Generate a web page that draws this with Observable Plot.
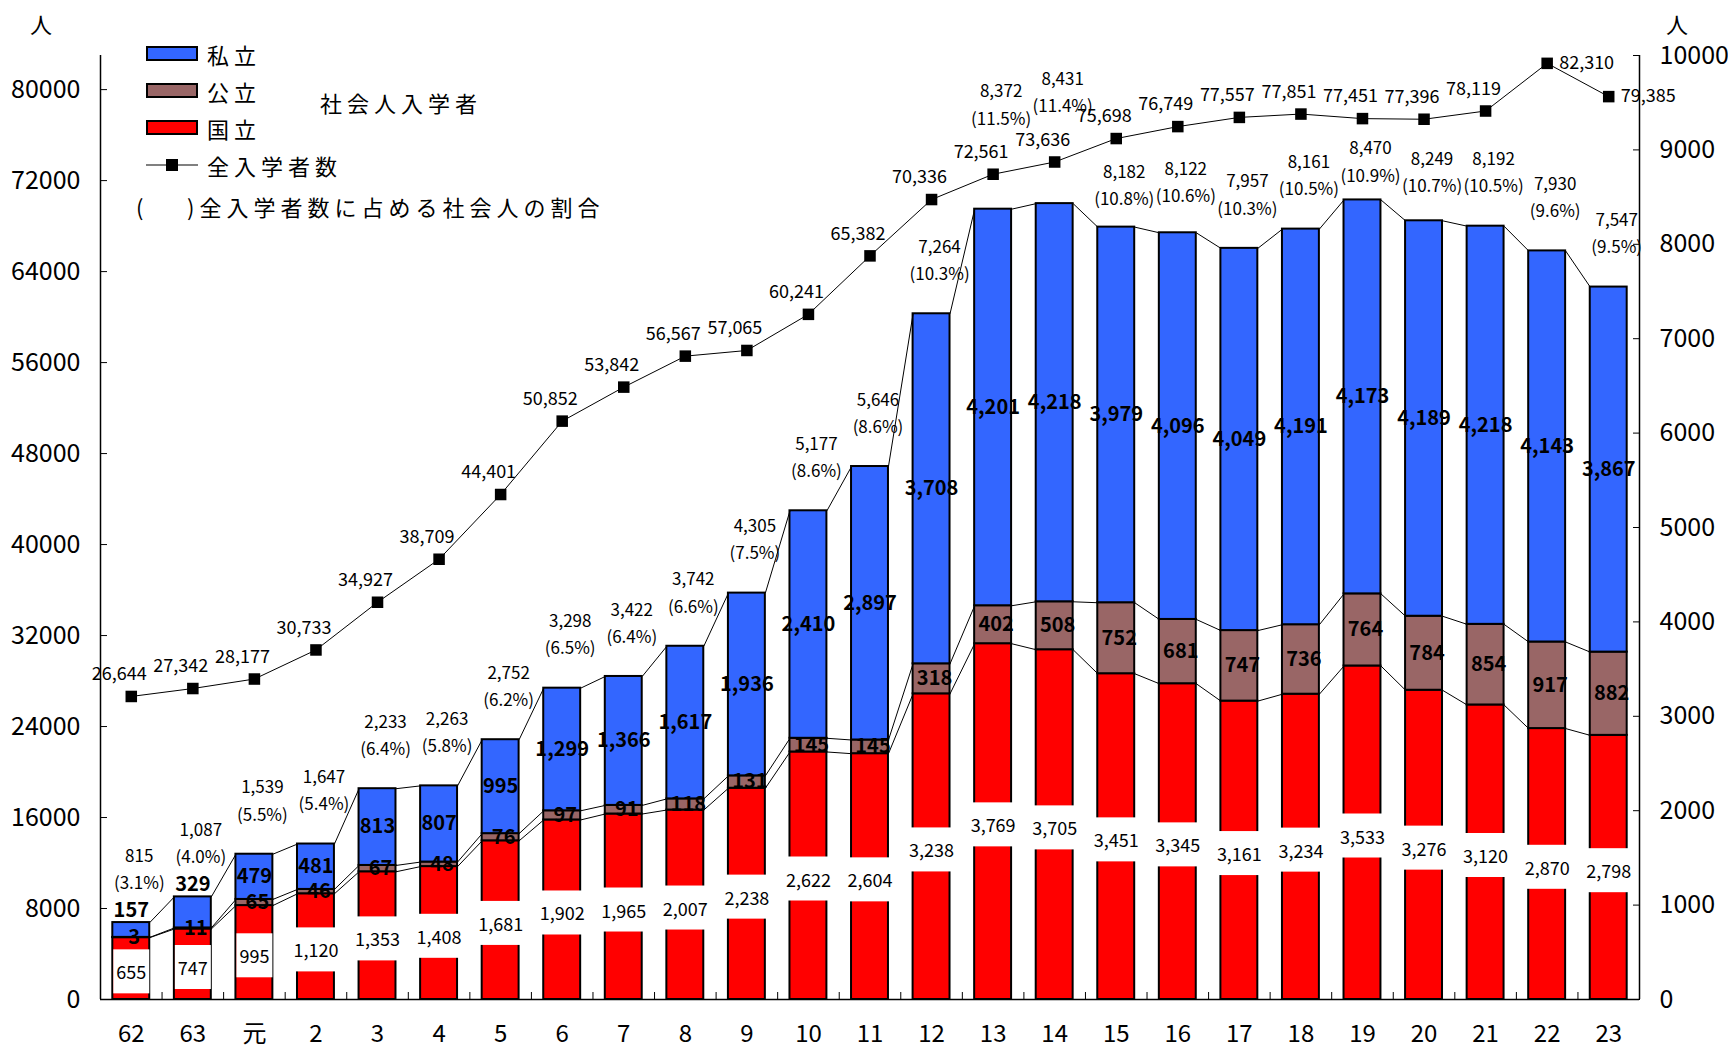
<!DOCTYPE html>
<html><head><meta charset="utf-8">
<script src="https://cdn.jsdelivr.net/npm/d3@7"></script>
<script src="https://cdn.jsdelivr.net/npm/@observablehq/plot@0.6"></script>
<style>
html,body{margin:0;padding:0;background:#fff;overflow:hidden}
#wrap{position:relative;width:1728px;height:1048px;font-family:"Noto Sans CJK JP",sans-serif;color:#000}
.lg{position:absolute;font-size:22px;letter-spacing:5px;line-height:22px;white-space:nowrap}
.sw{position:absolute;width:48px;height:11px;border:2px solid #000}
</style></head><body><div id="wrap"></div>
<script>
// 年度（昭和62年〜平成23年）
const years = ["62","63","元","2","3","4","5","6","7","8","9","10","11","12","13","14","15","16","17","18","19","20","21","22","23"];
// 社会人入学者（人）
const kokuritsu = [655,747,995,1120,1353,1408,1681,1902,1965,2007,2238,2622,2604,3238,3769,3705,3451,3345,3161,3234,3533,3276,3120,2870,2798];
const kouritsu  = [3,11,65,46,67,48,76,97,91,118,131,145,145,318,402,508,752,681,747,736,764,784,854,917,882];
const shiritsu  = [157,329,479,481,813,807,995,1299,1366,1617,1936,2410,2897,3708,4201,4218,3979,4096,4049,4191,4173,4189,4218,4143,3867];
const shakaijinTotal = [815,1087,1539,1647,2233,2263,2752,3298,3422,3742,4305,5177,5646,7264,8372,8431,8182,8122,7957,8161,8470,8249,8192,7930,7547];
// 全入学者数（人）
const zenNyugaku = [26644,27342,28177,30733,34927,38709,44401,50852,53842,56567,57065,60241,65382,70336,72561,73636,75698,76749,77557,77851,77451,77396,78119,82310,79385];
// 全入学者数に占める社会人の割合（%）
const ratioPct = ["3.1","4.0","5.5","5.4","6.4","5.8","6.2","6.5","6.4","6.6","7.5","8.6","8.6","10.3","11.5","11.4","10.8","10.6","10.3","10.5","10.9","10.7","10.5","9.6","9.5"];
// 軸目盛
const leftTicks = [0,8000,16000,24000,32000,40000,48000,56000,64000,72000,80000];
const rightTicks = [0,1000,2000,3000,4000,5000,6000,7000,8000,9000,10000];
const leftMax = 83000, rightMax = 10000;

const W = 1728, H = 1048, mT = 55, mB = 49, mL = 100, mR = 89;
const K = rightMax / leftMax;
const U = rightMax / (H - mT - mB); // data units per pixel
const fmt = d3.format(",");
const rows = years.map((name, i) => {
  const d = {i, name, k: kokuritsu[i], p: kouritsu[i], s: shiritsu[i],
    total: shakaijinTotal[i], all: zenNyugaku[i], pct: ratioPct[i]};
  const m = d.all * K, t = d.total;
  // total label: between bar top and line, or above the line when there is no room
  d.labelY = (m - t) / U < 60 ? m + 72 * U : Math.min((m + t) / 2, t + 56 * U);
  // line label goes to the right of the marker when there is no room above it, and at the series end
  d.lineLabelRight = (rightMax - m) / U < 32 || i === years.length - 1;
  return d;
});
const HW = 0.3; // half bar width (band units)
const levels = [d => d.k, d => d.k + d.p, d => d.k + d.p + d.s];
const font = "Noto Sans CJK JP";

const marks = [
  Plot.rectY(rows, {x1: d => d.i - HW, x2: d => d.i + HW, y1: 0, y2: d => d.k, fill: "#ff0000", stroke: "#000", strokeWidth: 2}),
  Plot.rectY(rows, {x1: d => d.i - HW, x2: d => d.i + HW, y1: d => d.k, y2: d => d.k + d.p, fill: "#996666", stroke: "#000", strokeWidth: 2}),
  Plot.rectY(rows, {x1: d => d.i - HW, x2: d => d.i + HW, y1: d => d.k + d.p, y2: d => d.k + d.p + d.s, fill: "#3366ff", stroke: "#000", strokeWidth: 2}),
  ...levels.map(f => Plot.link(rows.slice(0, -1), {
    x1: d => d.i + HW, x2: d => d.i + 1 - HW,
    y1: d => f(d), y2: d => f(rows[d.i + 1]),
    stroke: "#000", strokeWidth: 1
  })),
  Plot.ruleY([0], {stroke: "#000", strokeWidth: 1.5}),
  Plot.ruleX([-0.5, 24.5], {stroke: "#000", strokeWidth: 1.5}),
  // 全入学者数 line (left axis, mapped onto right-axis units)
  Plot.line(rows, {x: "i", y: d => d.all * K, stroke: "#000", strokeWidth: 1}),
  Plot.dot(rows, {x: "i", y: d => d.all * K, symbol: "square", r: 6.5, fill: "#000", stroke: null}),
  Plot.text(rows.filter(d => !d.lineLabelRight), {x: "i", y: d => d.all * K, text: d => fmt(d.all), dx: -12, dy: -22, fontSize: 18, fill: "#000"}),
  Plot.text(rows.filter(d => d.lineLabelRight), {x: "i", y: d => d.all * K, text: d => fmt(d.all), dx: 12, textAnchor: "start", fontSize: 18, fill: "#000"}),
  // totals with ratio
  Plot.text(rows, {x: "i", y: "labelY", text: d => `${fmt(d.total)}\n(${d.pct}%)`, dx: 8, lineHeight: 1.6, fontSize: 17, fill: "#000"}),
  // 私立 labels
  Plot.text(rows.filter(d => d.s >= 400), {x: "i", y: d => d.k + d.p + d.s / 2, text: d => fmt(d.s), fontSize: 20, fontWeight: "bold", fill: "#000"}),
  Plot.text(rows.filter(d => d.s < 400), {x: "i", y: "total", text: d => fmt(d.s), dy: -12, fontSize: 20, fontWeight: "bold", fill: "#000"}),
  // 公立 labels
  Plot.text(rows, {x: "i", y: d => d.k + d.p / 2, text: d => fmt(d.p), dx: 3, fontSize: 20, fontWeight: "bold", fill: "#000"}),
  // 国立 labels (white boxes added after render)
  Plot.text(rows, {x: "i", y: d => d.k / 2, text: d => fmt(d.k), dy: 5, fontSize: 18, fill: "#000001"}),
  // axes
  Plot.axisY(rightTicks, {anchor: "right", label: null, tickSize: -7, tickPadding: 27, tickFormat: d => String(d), fontSize: 25}),
  Plot.axisY(leftTicks.map(t => t * K), {anchor: "left", label: null, tickSize: -7, tickPadding: 27, tickFormat: d => String(Math.round(d / K)), fontSize: 25}),
  Plot.axisX(d3.range(years.length), {anchor: "bottom", label: null, tickSize: 0, tickPadding: 25, tickFormat: i => years[i], fontSize: 24}),
  Plot.axisX(d3.range(0.5, years.length - 1, 1), {anchor: "bottom", label: null, tickSize: -7, tickFormat: () => ""})
];

const chart = Plot.plot({
  width: W, height: H,
  marginLeft: mL, marginRight: mR, marginTop: mT, marginBottom: mB,
  style: {fontFamily: font, background: "#fff", color: "#000"},
  x: {type: "linear", domain: [-0.5, years.length - 0.5], label: null},
  y: {domain: [0, rightMax], label: null},
  marks
});
const wrap = document.getElementById("wrap");
wrap.appendChild(chart);

// white background boxes behind 国立 labels
const SVGNS = "http://www.w3.org/2000/svg";
chart.querySelectorAll('g[fill="#000001"]').forEach(g => {
  const bg = document.createElementNS(SVGNS, "g");
  g.parentNode.insertBefore(bg, g);
  g.querySelectorAll("text").forEach(t => {
    const b = t.getBBox();
    const m = t.getCTM(), pm = bg.getCTM();
    const r = document.createElementNS(SVGNS, "rect");
    const x = b.x + m.e - pm.e, y = b.y + m.f - pm.f;
    r.setAttribute("x", x - 3); r.setAttribute("y", y - 9);
    r.setAttribute("width", b.width + 6); r.setAttribute("height", b.height + 18);
    r.setAttribute("fill", "#fff");
    bg.appendChild(r);
  });
});

// overlay texts: unit labels and legend
function add(cls, style, text) {
  const d = document.createElement("div");
  d.className = cls; d.setAttribute("style", style);
  if (text != null) d.textContent = text;
  wrap.appendChild(d);
  return d;
}
add("lg", "left:30px;top:12px;", "人");
add("lg", "left:1666px;top:12px;", "人");
add("sw", "left:146px;top:46px;background:#3366ff;");
add("sw", "left:146px;top:83px;background:#996666;");
add("sw", "left:146px;top:120px;background:#ff0000;");
add("lg", "left:207px;top:43px;", "私立");
add("lg", "left:207px;top:80px;", "公立");
add("lg", "left:207px;top:117px;", "国立");
add("lg", "left:320px;top:91px;", "社会人入学者");
add("", "position:absolute;left:146px;top:164px;width:52px;height:1.5px;background:#808080;");
add("", "position:absolute;left:166px;top:159px;width:12px;height:12px;background:#000;");
add("lg", "left:207px;top:154px;", "全入学者数");
add("lg", "left:136px;top:195px;", "(");
add("lg", "left:187px;top:195px;", ")全入学者数に占める社会人の割合");
</script></body></html>
